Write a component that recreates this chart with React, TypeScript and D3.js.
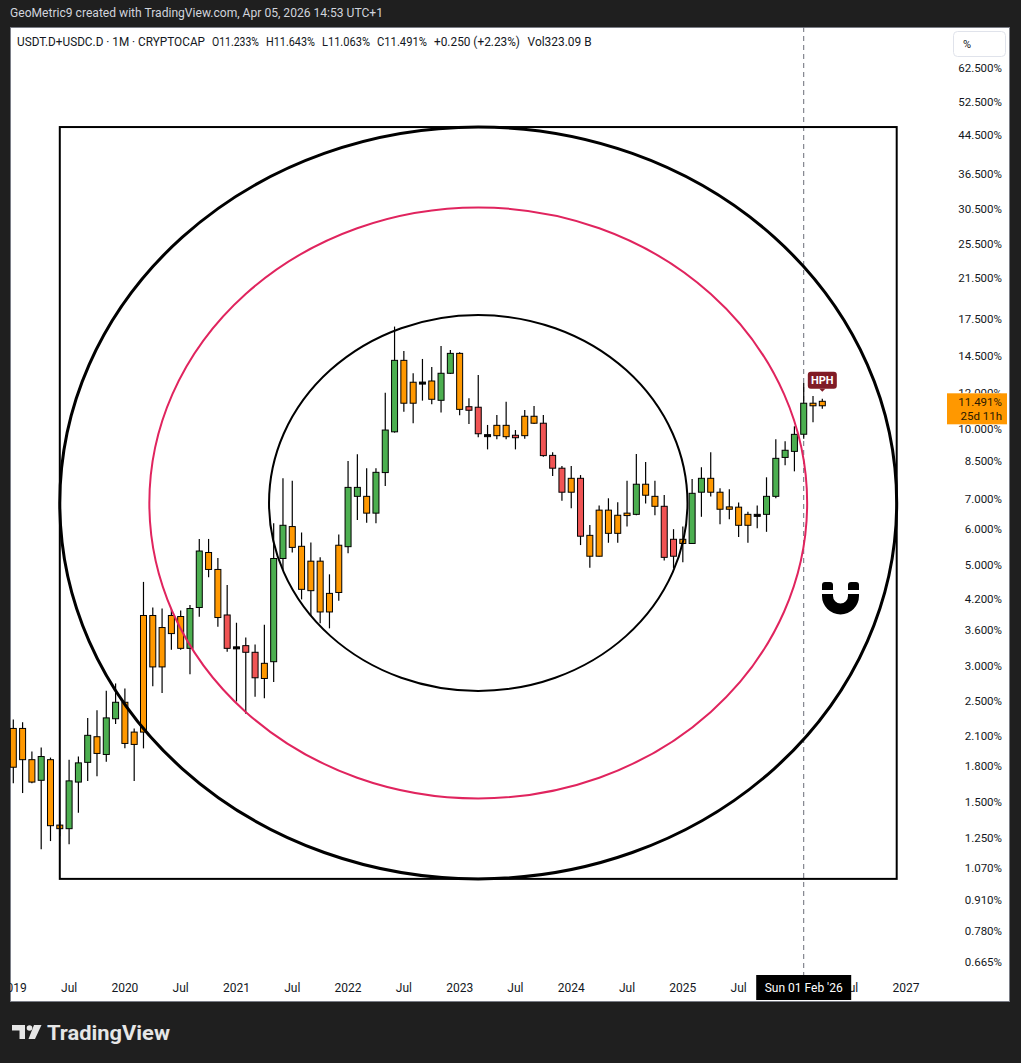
import React from "react";
import * as d3 from "d3";

// ---- data (monthly candles, Jan 2019 .. Apr 2026), values in % ----
const months = [
  "2019-01","2019-02","2019-03","2019-04","2019-05","2019-06","2019-07","2019-08","2019-09","2019-10","2019-11","2019-12",
  "2020-01","2020-02","2020-03","2020-04","2020-05","2020-06","2020-07","2020-08","2020-09","2020-10","2020-11","2020-12",
  "2021-01","2021-02","2021-03","2021-04","2021-05","2021-06","2021-07","2021-08","2021-09","2021-10","2021-11","2021-12",
  "2022-01","2022-02","2022-03","2022-04","2022-05","2022-06","2022-07","2022-08","2022-09","2022-10","2022-11","2022-12",
  "2023-01","2023-02","2023-03","2023-04","2023-05","2023-06","2023-07","2023-08","2023-09","2023-10","2023-11","2023-12",
  "2024-01","2024-02","2024-03","2024-04","2024-05","2024-06","2024-07","2024-08","2024-09","2024-10","2024-11","2024-12",
  "2025-01","2025-02","2025-03","2025-04","2025-05","2025-06","2025-07","2025-08","2025-09","2025-10","2025-11","2025-12",
  "2026-01","2026-02","2026-03","2026-04",
];
const opens = [
  2.18,2.18,1.86,1.675,1.86,1.334,1.31,1.66,1.835,2.09,1.91,2.29,
  2.49,2.14,2.14,3.87,2.98,3.87,3.85,3.275,4.03,5.33,4.89,3.88,
  3.30,3.32,3.21,2.81,3.06,5.17,6.08,5.50,5.10,5.10,3.94,4.35,
  5.49,7.09,7.09,6.51,8.00,9.84,14.15,12.66,12.67,12.74,11.55,13.25,
  14.66,11.18,11.15,9.70,9.65,10.17,9.67,9.65,10.65,10.28,8.73,8.18,
  7.24,7.77,5.815,5.23,6.61,5.875,6.43,6.47,7.54,7.09,6.74,5.70,
  5.58,5.58,7.24,7.77,7.24,6.64,6.71,6.12,6.47,6.47,7.09,8.64,
  8.91,9.72,11.38,11.233,
];
const highs = [
  2.28,2.25,1.94,1.98,1.88,1.36,1.86,1.89,2.30,2.39,2.64,2.74,
  2.67,2.18,4.59,4.03,4.01,4.01,3.97,4.08,5.71,5.71,5.18,4.52,
  3.73,3.46,3.34,3.69,6.18,7.77,7.67,5.90,5.61,5.20,4.77,5.84,
  8.48,8.78,8.18,8.18,12.0,16.8,14.84,13.25,14.25,13.68,15.22,14.91,
  14.74,11.67,13.13,10.19,10.72,11.47,9.93,11.0,11.22,10.72,8.87,8.27,
  8.27,7.90,6.13,6.77,7.02,6.88,7.67,8.79,8.44,7.67,7.14,6.00,
  6.08,7.74,8.22,8.87,7.39,7.35,6.87,6.56,6.77,7.81,9.47,9.375,
  10.12,12.61,11.81,11.643,
];
const lows = [
  1.65,1.57,1.65,1.18,1.23,1.26,1.21,1.42,1.67,1.71,1.84,2.23,
  1.97,1.67,1.97,2.70,2.61,3.25,3.25,2.87,3.845,4.70,3.655,3.22,
  2.50,2.35,2.56,2.54,2.76,4.88,5.33,4.20,3.86,3.72,3.625,4.17,
  5.31,6.29,6.20,6.18,7.47,9.80,10.90,10.28,11.53,11.32,10.85,13.20,
  10.70,10.24,9.57,9.00,9.47,9.47,9.00,9.50,10.24,8.67,7.86,6.93,
  6.67,5.535,4.93,5.22,5.60,5.60,6.08,6.44,6.84,6.44,5.12,4.92,
  5.07,5.575,6.39,7.08,6.15,6.31,5.77,5.60,6.03,5.92,7.02,8.30,
  8.05,9.50,10.33,11.063,
];
const closes = [
  1.79,1.86,1.66,1.89,1.33,1.31,1.67,1.83,2.105,1.92,2.30,2.49,
  2.02,2.01,3.87,2.98,3.64,3.53,3.275,4.01,5.37,4.89,3.83,3.275,
  3.30,3.21,2.82,3.035,5.17,6.12,5.47,4.42,4.39,3.94,4.33,5.53,
  7.42,7.42,6.51,8.01,9.93,14.15,11.38,11.38,12.67,11.61,13.25,14.66,
  11.03,10.98,9.745,9.70,10.17,9.60,9.55,10.65,10.28,8.72,8.18,7.24,
  7.77,5.79,5.23,6.61,5.875,6.44,6.51,7.54,7.13,6.74,5.20,5.23,
  5.70,7.20,7.77,7.24,6.64,6.72,6.12,6.47,6.47,7.09,8.60,8.96,
  9.715,11.38,11.233,11.491,
];
// g = green, o = orange, r = red, k = black doji
const tones = [
  "o","o","o","g","o","o","g","g","g","o","g","g",
  "o","o","o","o","o","o","o","g","g","o","o","r",
  "k","r","r","o","g","g","o","o","o","o","o","o",
  "g","g","o","g","g","g","o","o","k","o","g","g",
  "o","r","r","k","o","o","r","o","o","r","r","r",
  "o","r","o","o","o","o","o","g","o","o","r","r",
  "o","g","g","o","o","o","o","o","k","g","g","g",
  "g","g","o","o",
];

const priceTicks = [62.5,52.5,44.5,36.5,30.5,25.5,21.5,17.5,14.5,12,10,8.5,7,6,5,4.2,3.6,3,2.5,2.1,1.8,1.5,1.25,1.07,0.91,0.78,0.665];
// the 2026 year label sits fully under the crosshair date tag in the reference, so it is not drawn
const timeTickIdx = [0,6,12,18,24,30,36,42,48,54,60,66,72,78,90,96];
const timeTickLabels = ["2019","Jul","2020","Jul","2021","Jul","2022","Jul","2023","Jul","2024","Jul","2025","Jul","Jul","2027"];

// drawing: rectangle (month index, %) and concentric ellipse levels
const boxStartIdx = 5;
const boxEndIdx = 95;
const boxTop = 46.3;
const boxBottom = 1.015;
const ellipseLevels = [1, 0.786, 0.5];
const ellipseColors = ["#000000", "#e0245e", "#000000"];
const ellipseWidths = [3, 2, 2];

const crossIdx = 85; // Feb 2026
const lastClose = 11.491;

const toneFill: Record<string, string> = { g: "#4caf50", o: "#ff9800", r: "#f05454", k: "#000000" };

const FONT = "Roboto, 'Noto Sans', Arial, sans-serif";

export default function App() {
  const W = 1021, H = 1063;
  const panel = { x: 10, y: 27, w: 1000, h: 975 };
  const plotRight = 945, plotBottom = 975;

  const x = d3.scaleLinear().domain([0, 96]).range([13.3, 906]);
  const y = d3.scaleLog().domain([0.665, 62.5]).range([962.1, 68.0]);

  const bx0 = x(boxStartIdx), bx1 = x(boxEndIdx), by0 = y(boxTop), by1 = y(boxBottom);
  const cx = (bx0 + bx1) / 2, cy = (by0 + by1) / 2, rx0 = (bx1 - bx0) / 2, ry0 = (by1 - by0) / 2;

  const crossX = x(crossIdx);
  const lastY = y(lastClose);
  const lastIdx = months.length - 1;
  const hphX = x(lastIdx), hphY = y(highs[lastIdx]) - 10;

  const bodyW = 6;

  return (
    <svg width={W} height={H} style={{ position: "absolute", left: 0, top: 0, display: "block" }} fontFamily={FONT}>
      <defs>
        <clipPath id="plotClip">
          <rect x={panel.x} y={panel.y} width={plotRight - panel.x} height={plotBottom - panel.y} />
        </clipPath>
        <clipPath id="timeClip">
          <rect x={panel.x} y={plotBottom} width={plotRight - panel.x} height={panel.y + panel.h - plotBottom} />
        </clipPath>
        <clipPath id="tagClip">
          <rect x={940} y={0} width={81} height={lastY - 8} />
        </clipPath>
      </defs>
      <rect x={0} y={0} width={W} height={H} fill="#1f1f1f" />
      <text x={10} y={17} fontSize={12.5} fill="#d1d4dc" textLength={373} lengthAdjust="spacingAndGlyphs">
        GeoMetric9 created with TradingView.com, Apr 05, 2026 14:53 UTC+1
      </text>
      <rect x={panel.x + 0.5} y={panel.y + 0.5} width={panel.w - 1} height={panel.h - 1} fill="#ffffff" stroke="#7a7d86" strokeWidth={1} />

      {/* legend line */}
      <g fontSize={12} fill="#131722">
        <text x={17} y={46} textLength={188} lengthAdjust="spacingAndGlyphs">USDT.D+USDC.D · 1M · CRYPTOCAP</text>
        <text x={212} y={46} textLength={47} lengthAdjust="spacingAndGlyphs">O11.233%</text>
        <text x={266} y={46} textLength={49} lengthAdjust="spacingAndGlyphs">H11.643%</text>
        <text x={322} y={46} textLength={48} lengthAdjust="spacingAndGlyphs">L11.063%</text>
        <text x={377} y={46} textLength={50} lengthAdjust="spacingAndGlyphs">C11.491%</text>
        <text x={434} y={46} textLength={86} lengthAdjust="spacingAndGlyphs">+0.250 (+2.23%)</text>
        <text x={527.6} y={46} textLength={64} lengthAdjust="spacingAndGlyphs">Vol323.09 B</text>
      </g>

      {/* % button */}
      <rect x={953.5} y={31.5} width={52} height={25} rx={4} fill="#ffffff" stroke="#e0e3eb" />
      <text x={963} y={48} fontSize={11} fill="#131722">%</text>

      <g clipPath="url(#plotClip)">
        {/* crosshair */}
        <line x1={crossX} x2={crossX} y1={panel.y} y2={plotBottom} stroke="#6a6d78" strokeDasharray="5,4" strokeWidth={1} />
        {/* candles */}
        {months.map((m, i) => {
          const cxp = x(i);
          const yo = y(opens[i]), yc = y(closes[i]);
          const top = Math.min(yo, yc);
          const h = Math.max(Math.abs(yo - yc), 2);
          return (
            <g key={m}>
              <line x1={cxp} x2={cxp} y1={y(highs[i])} y2={y(lows[i])} stroke="#000" strokeWidth={1.2} />
              <rect x={cxp - bodyW / 2} y={top} width={bodyW} height={h} fill={toneFill[tones[i]]} stroke="#000" strokeWidth={1} />
            </g>
          );
        })}
        {/* drawings */}
        <rect x={bx0} y={by0} width={bx1 - bx0} height={by1 - by0} fill="none" stroke="#000" strokeWidth={2} />
        {ellipseLevels.map((lv, k) => (
          <ellipse key={k} cx={cx} cy={cy} rx={rx0 * lv} ry={ry0 * lv} fill="none" stroke={ellipseColors[k]} strokeWidth={ellipseWidths[k]} />
        ))}
      </g>

      {/* HPH label */}
      <g>
        <rect x={hphX - 14.5} y={hphY - 17} width={29} height={17} rx={3} fill="#801b26" />
        <path d={`M${hphX - 3},${hphY} L${hphX},${hphY + 3} L${hphX + 3},${hphY} Z`} fill="#801b26" />
        <text x={hphX} y={hphY - 4.5} fontSize={11} fontWeight={700} fill="#ffffff" textAnchor="middle">HPH</text>
      </g>

      {/* magnet icon */}
      <g fill="#000">
        <path d="M822,585 A3,3 0 0 1 825,582 L830,582 A3,3 0 0 1 833,585 L833,590 L822,590 Z" />
        <path d="M848,585 A3,3 0 0 1 851,582 L856,582 A3,3 0 0 1 859,585 L859,590 L848,590 Z" />
        <path d="M822,594 L833,594 L833,596 A7.5,7.5 0 0 0 848,596 L848,594 L859,594 L859,596 A18.5,18.5 0 0 1 822,596 Z" />
      </g>

      {/* price axis */}
      <g fontSize={11.5} fill="#131722" textAnchor="end">
        {priceTicks.map((v) => {
          const ty = y(v);
          const hidden = Math.abs(ty - lastY) < 14;
          return (
            <text key={v} x={1002} y={ty + 4} clipPath={hidden ? "url(#tagClip)" : undefined}>{v.toFixed(3)}%</text>
          );
        })}
      </g>
      {/* last price tag */}
      <rect x={947} y={lastY - 8} width={60} height={31} fill="#ff9800" />
      <text x={1002} y={lastY + 5} fontSize={11.5} fill="#2a1a00" textAnchor="end">{lastClose.toFixed(3)}%</text>
      <text x={1002} y={lastY + 19} fontSize={11.5} fill="#2a1a00" textAnchor="end">25d 11h</text>

      {/* time axis */}
      <g clipPath="url(#timeClip)" fontSize={12} fill="#131722" textAnchor="middle">
        {timeTickIdx.map((ti, k) => (
          <text key={ti} x={x(ti)} y={992}>{timeTickLabels[k]}</text>
        ))}
      </g>
      <rect x={crossX - 47.5} y={975} width={95} height={25} fill="#000" />
      <text x={crossX} y={992} fontSize={12} fill="#fff" textAnchor="middle">Sun 01 Feb '26</text>

      {/* logo */}
      <g fill="#e6e6e6">
        <path d="M12,1025 L25,1025 L25,1039 L19.5,1039 L19.5,1030.5 L12,1030.5 Z" />
        <circle cx={29.5} cy={1028} r={2.8} />
        <path d="M34,1025 L41.5,1025 L35,1039 L28.5,1039 Z" />
        <text x={47} y={1040} fontSize={20} fontWeight={700} textLength={123} lengthAdjust="spacingAndGlyphs">TradingView</text>
      </g>
    </svg>
  );
}
